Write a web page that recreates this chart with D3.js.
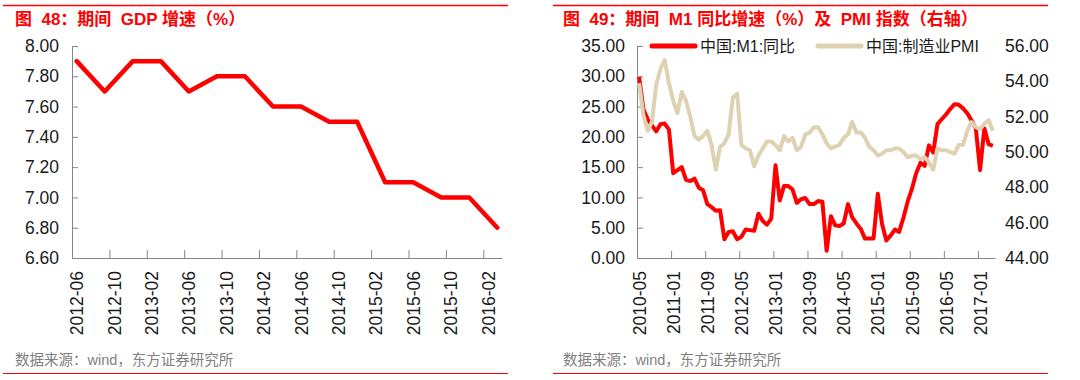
<!DOCTYPE html>
<html>
<head>
<meta charset="utf-8">
<script src="https://cdn.jsdelivr.net/npm/d3@7"></script>
<style>
  body { margin: 0; background: #fff; }
  text { font-family: "Liberation Sans", Arial, "Noto Sans CJK SC", sans-serif; }
</style>
</head>
<body>
<svg id="chart"></svg>
<script>
// ---- data: left chart (GDP, quarterly) ----
const gdpDates = ["2012-06", "2012-09", "2012-12", "2013-03", "2013-06", "2013-09", "2013-12", "2014-03",
                  "2014-06", "2014-09", "2014-12", "2015-03", "2015-06", "2015-09", "2015-12", "2016-03"];
const gdpValues = [7.9, 7.7, 7.9, 7.9, 7.7, 7.8, 7.8, 7.6, 7.6, 7.5, 7.5, 7.1, 7.1, 7.0, 7.0, 6.8];
const gdpTickLabels = ["2012-06", "2012-10", "2013-02", "2013-06", "2013-10", "2014-02",
                       "2014-06", "2014-10", "2015-02", "2015-06", "2015-10", "2016-02"];
const gdpYTicks = [6.6, 6.8, 7.0, 7.2, 7.4, 7.6, 7.8, 8.0];

// ---- data: right chart (monthly, 2010-05 .. 2017-04) ----
const m1Start = "2010-05";
const m1Values = [
  29.9, 24.6, 22.9, 21.9, 20.9, 22.1, 22.2, 21.2,                    // 2010-05..12
  14.0, 14.5, 15.0, 12.9, 12.7, 13.1, 11.6, 11.2, 8.9, 8.4, 7.8, 7.9, // 2011
  3.1, 4.3, 4.4, 3.1, 3.5, 4.7, 4.6, 4.5, 7.3, 6.1, 5.5, 6.5,         // 2012
  15.3, 9.5, 11.9, 11.9, 11.3, 9.1, 9.7, 9.9, 8.9, 8.9, 9.4, 9.3,     // 2013
  1.2, 6.9, 5.4, 5.3, 5.7, 8.9, 6.7, 5.7, 4.8, 3.2, 3.2, 3.2,         // 2014
  10.6, 5.6, 2.9, 3.7, 4.7, 4.3, 6.6, 9.3, 11.4, 14.0, 15.7, 15.2,    // 2015
  18.6, 17.4, 22.1, 22.9, 23.7, 24.6, 25.4, 25.3, 24.7, 23.9, 22.7, 21.4, // 2016
  14.5, 21.4, 18.8, 18.5                                              // 2017-01..04
];
const pmiValues = [
  53.9, 52.1, 51.2, 51.7, 53.8, 54.7, 55.2, 53.9,
  52.9, 52.2, 53.4, 52.9, 52.0, 50.9, 50.7, 50.9, 51.2, 50.4, 49.0, 50.3,
  50.5, 51.0, 53.1, 53.3, 50.4, 50.2, 50.1, 49.2, 49.8, 50.2, 50.6, 50.6,
  50.4, 50.1, 50.9, 50.6, 50.8, 50.1, 50.3, 51.0, 51.1, 51.4, 51.4, 51.0,
  50.5, 50.2, 50.3, 50.4, 50.8, 51.0, 51.7, 51.1, 51.1, 50.8, 50.3, 50.1,
  49.8, 49.9, 50.1, 50.1, 50.2, 50.2, 50.0, 49.7, 49.8, 49.8, 49.6, 49.7,
  49.4, 49.0, 50.2, 50.1, 50.1, 50.0, 49.9, 50.4, 50.4, 51.2, 51.7, 51.4,
  51.3, 51.6, 51.8, 51.2
];
const m1TickLabels = ["2010-05", "2011-01", "2011-09", "2012-05", "2013-01", "2013-09",
                      "2014-05", "2015-01", "2015-09", "2016-05", "2017-01"];
const m1YTicks = [0, 5, 10, 15, 20, 25, 30, 35];
const pmiYTicks = [44, 46, 48, 50, 52, 54, 56];
const seriesNames = ["中国:M1:同比", "中国:制造业PMI"];

const titles = ["图  48：期间  GDP 增速（%）", "图  49：期间  M1 同比增速（%）及  PMI 指数（右轴）"];
const sourceText = "数据来源：wind，东方证券研究所";

const RED = "#ff0000", BEIGE = "#ded2b3", AXIS = "#868686", INK = "#1a1a1a";

const mi = s => { const [y, m] = s.split("-").map(Number); return y * 12 + m - 1; };

const svg = d3.select("#chart").attr("width", 1080).attr("height", 380);

// ---- panel frame: red rules, title, source ----
function frame(x0, x1, tx, title) {
  svg.append("line").attr("x1", x0).attr("x2", x1).attr("y1", 5.5).attr("y2", 5.5)
    .attr("stroke", RED).attr("stroke-width", 1.5);
  svg.append("line").attr("x1", x0).attr("x2", x1).attr("y1", 373.5).attr("y2", 373.5)
    .attr("stroke", RED).attr("stroke-width", 1);
  svg.append("text").attr("x", tx).attr("y", 25).attr("fill", RED)
    .attr("font-size", 17).attr("font-weight", "bold").attr("xml:space", "preserve").text(title);
  svg.append("text").attr("x", tx).attr("y", 365).attr("fill", "#7f7f7f")
    .attr("font-size", 14.5).text(sourceText);
}
frame(3, 508, 15, titles[0]);
frame(553, 1048, 563, titles[1]);

function styleAxis(g) {
  g.selectAll(".domain").attr("stroke", AXIS);
  g.selectAll(".tick line").attr("stroke", AXIS);
  g.selectAll("text").attr("fill", INK).attr("font-size", 17.5).attr("font-family", null);
}

function bottomAxis(x, labels, tickLen) {
  const half = (x(1) - x(0)) / 2;
  const g = svg.append("g").attr("transform", "translate(0,258)")
    .call(d3.axisBottom(x).tickValues(labels.map(s => mi(s) - 0.5))
      .tickSizeInner(-tickLen).tickSizeOuter(0)
      .tickFormat((d, i) => labels[i]));
  styleAxis(g);
  g.selectAll(".tick text")
    .attr("transform", "rotate(-90)")
    .attr("x", -13).attr("y", half).attr("dy", "0.35em")
    .attr("text-anchor", "end");
  return g;
}

// ---- left chart ----
const gx = d3.scaleLinear()
  .domain([mi(gdpDates[0]) - 0.5, mi(gdpDates[gdpDates.length - 1]) + 0.5])
  .range([72, 502]);
const gy = d3.scaleLinear().domain([6.6, 8.0]).range([258, 46]);

bottomAxis(gx, gdpTickLabels, 8);
styleAxis(svg.append("g").attr("transform", "translate(72,0)")
  .call(d3.axisLeft(gy).tickValues(gdpYTicks).tickSizeInner(-6).tickSizeOuter(0)
    .tickPadding(13).tickFormat(d3.format(".2f"))));

svg.append("path")
  .datum(gdpDates.map((d, i) => [mi(d), gdpValues[i]]))
  .attr("fill", "none").attr("stroke", RED).attr("stroke-width", 4.5)
  .attr("stroke-linejoin", "round").attr("stroke-linecap", "round")
  .attr("d", d3.line().x(d => gx(d[0])).y(d => gy(d[1])));

// ---- right chart ----
const s0 = mi(m1Start);
const rx = d3.scaleLinear().domain([s0 - 0.5, s0 + m1Values.length - 0.5]).range([637, 995]);
const ryL = d3.scaleLinear().domain([0, 35]).range([258, 46]);
const ryR = d3.scaleLinear().domain([44, 56]).range([258, 46]);

bottomAxis(rx, m1TickLabels, 7);
styleAxis(svg.append("g").attr("transform", "translate(637,0)")
  .call(d3.axisLeft(ryL).tickValues(m1YTicks).tickSizeInner(-6).tickSizeOuter(0)
    .tickPadding(12).tickFormat(d3.format(".2f"))));
const gR = svg.append("g").attr("transform", "translate(995,0)")
  .call(d3.axisRight(ryR).tickValues(pmiYTicks).tickSize(0)
    .tickPadding(10).tickFormat(d3.format(".2f")));
styleAxis(gR);
gR.select(".domain").remove();

const monthly = vals => vals.map((v, i) => [s0 + i, v]);
svg.append("path").datum(monthly(m1Values))
  .attr("fill", "none").attr("stroke", RED).attr("stroke-width", 4)
  .attr("stroke-linejoin", "round")
  .attr("d", d3.line().x(d => rx(d[0])).y(d => ryL(d[1])));
svg.append("path").datum(monthly(pmiValues))
  .attr("fill", "none").attr("stroke", BEIGE).attr("stroke-width", 4)
  .attr("stroke-linejoin", "round")
  .attr("d", d3.line().x(d => rx(d[0])).y(d => ryR(d[1])));

// legend
const legend = [
  { name: seriesNames[0], color: RED, x: 652 },
  { name: seriesNames[1], color: BEIGE, x: 818 }
];
legend.forEach(l => {
  svg.append("line").attr("x1", l.x).attr("x2", l.x + 43).attr("y1", 46).attr("y2", 46)
    .attr("stroke", l.color).attr("stroke-width", 5).attr("stroke-linecap", "round");
  svg.append("text").attr("x", l.x + 48).attr("y", 46).attr("dy", "0.35em")
    .attr("font-size", 16).attr("fill", INK).text(l.name);
});
</script>
</body>
</html>
